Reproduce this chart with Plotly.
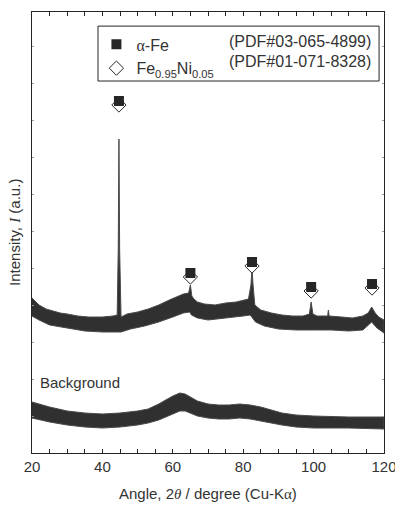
import plotly.graph_objects as go

# ---------------- data ----------------
# Sample pattern: upper and lower edge of the noisy trace (a.u.)
sample_top_angle = [20, 21, 22, 24, 26, 28, 30, 33, 36, 40, 43, 44.2, 44.5, 44.7, 44.9, 45.3,
                    47, 50, 53, 56, 59, 61, 63, 64.5, 65.0, 65.4, 66, 67, 69, 72, 75, 78, 80,
                    81.5, 82.2, 82.5, 82.8, 83.3, 85, 88, 91, 94, 97, 98.8, 99.3, 99.8, 101,
                    104, 104.2, 104.4, 108, 111, 114, 115.5, 116.5, 117.5, 118.5, 120]
sample_top = [155, 151, 148, 144, 142, 140, 139, 137, 136, 136, 137, 138, 203, 314, 203, 136,
              139, 141, 144, 148, 153, 156, 159, 160, 168, 157, 154, 151, 149, 148, 150, 151, 153,
              154, 168, 185, 168, 148, 143, 140, 138, 137, 137, 139, 151, 139, 137,
              137, 143, 137, 136, 135, 137, 140, 146, 140, 136, 133]
sample_bot_angle = [20, 22, 25, 30, 35, 40, 44.3, 45.3, 48, 52, 56, 60, 63, 64.8, 65.3, 67, 70,
                    75, 80, 82, 83.5, 86, 90, 95, 100, 105, 110, 114, 116.5, 118, 120]
sample_bot = [137, 133, 128, 125, 122, 121, 121, 121, 124, 127, 131, 136, 140, 141, 138, 135, 133,
              135, 137, 138, 131, 127, 124, 123, 123, 123, 122, 123, 131, 125, 120]

# Background pattern
bg_angle = [20, 22, 25, 30, 35, 40, 45, 50, 53, 56, 58, 60, 62, 63.5, 65, 67, 70, 73, 76, 79,
            82, 85, 88, 91, 95, 100, 110, 120]
bg_top = [51, 49, 46, 42, 40, 39, 40, 42, 44, 49, 53, 57, 60, 59, 56, 52, 49, 48, 48, 49,
          48, 46, 43, 40, 38, 37, 36, 36]
bg_bot = [35, 33, 31, 28, 26, 25, 26, 28, 30, 33, 36, 39, 42, 42, 40, 37, 35, 34, 34, 35,
          34, 32, 30, 28, 26, 25, 25, 24]

# Peak assignments
peak_angle = [44.7, 65.0, 82.5, 99.3, 116.6]
fe_marker_level = [352, 180, 191, 166, 169]
feni_marker_level = [348, 176, 187, 162, 165]

x_ticks = [20, 40, 60, 80, 100, 120]

INK = "#262626"
FONT = "Liberation Sans, Arial, sans-serif"
SERIF = "Liberation Serif, Times New Roman, serif"


def band_polygon(top_x, top_y, bot_x, bot_y):
    return list(top_x) + list(bot_x)[::-1], list(top_y) + list(bot_y)[::-1]


fig = go.Figure()

# sample trace as a filled noise band
sx, sy = band_polygon(sample_top_angle, sample_top, sample_bot_angle, sample_bot)
fig.add_trace(go.Scatter(x=sx, y=sy, fill="toself", fillcolor="#303030", mode="lines",
                         line=dict(color="#4a4a4a", width=1), showlegend=False,
                         hoverinfo="skip"))

# background trace as a filled noise band
bx, by = band_polygon(bg_angle, bg_top, bg_angle, bg_bot)
fig.add_trace(go.Scatter(x=bx, y=by, fill="toself", fillcolor="#303030", mode="lines",
                         line=dict(color="#4a4a4a", width=1), showlegend=False,
                         hoverinfo="skip"))

# Fe0.95Ni0.05 markers (open diamonds) drawn first
fig.add_trace(go.Scatter(
    x=peak_angle, y=feni_marker_level, mode="markers",
    marker=dict(symbol="diamond", size=11, color="white", line=dict(color=INK, width=1)),
    name="Fe<sub>0.95</sub>Ni<sub>0.05</sub>", legendrank=2))

# alpha-Fe markers (filled squares)
fig.add_trace(go.Scatter(
    x=peak_angle, y=fe_marker_level, mode="markers",
    marker=dict(symbol="square", size=10, color=INK, line=dict(color=INK, width=0)),
    name=f"<span style=\"font-family:{SERIF}\">α</span>-Fe", legendrank=1))

fig.update_layout(
    width=395, height=507,
    margin=dict(l=32, r=11, t=12, b=54),
    plot_bgcolor="white", paper_bgcolor="white",
    font=dict(family=FONT, size=15, color="#333"),
    showlegend=True,
    legend=dict(x=0.183, xanchor="left", y=0.965, yanchor="top",
                bgcolor="rgba(0,0,0,0)", borderwidth=0,
                font=dict(size=16, color="#333"), tracegroupgap=0,
                itemclick=False),
    xaxis=dict(range=[20, 120], tickvals=x_ticks, ticks="inside", ticklen=4,
               tickcolor=INK, linecolor=INK, linewidth=1, mirror="ticks",
               showgrid=False, zeroline=False, automargin=False,
               ticklabeloverflow="allow",
               tickfont=dict(size=15, color="#333"),
               minor=dict(dtick=5, ticks="inside", ticklen=4, tickcolor=INK)),
    yaxis=dict(range=[0, 441], dtick=37, tick0=0, ticks="inside", ticklen=2,
               tickcolor="#999", linecolor=INK, linewidth=1, mirror="ticks",
               showticklabels=False, showgrid=False, zeroline=False, automargin=False),
    shapes=[dict(type="rect", xref="paper", yref="paper",
                 x0=0.1875, x1=0.986, y0=0.8435, y1=0.968,
                 line=dict(color=INK, width=1), fillcolor="rgba(0,0,0,0)")],
    annotations=[
        dict(text="(PDF#03-065-4899)", xref="paper", yref="paper", x=0.969, y=0.932,
             xanchor="right", yanchor="middle", showarrow=False,
             font=dict(size=16, color="#333")),
        dict(text="(PDF#01-071-8328)", xref="paper", yref="paper", x=0.969, y=0.887,
             xanchor="right", yanchor="middle", showarrow=False,
             font=dict(size=16, color="#333")),
        dict(text="Background", x=21.7, y=71, xanchor="left", yanchor="middle",
             showarrow=False, font=dict(size=15, color="#333")),
        dict(text=f"Angle, 2<span style=\"font-family:{SERIF}\"><i>θ</i></span> / degree (Cu-K<span style=\"font-family:{SERIF}\">α</span>)",
             xref="paper", yref="paper", x=0.5, y=-0.091, xanchor="center",
             yanchor="middle", showarrow=False, font=dict(size=15, color="#333")),
        dict(text=f"Intensity, <span style=\"font-family:{SERIF}\"><i>I</i></span> (a.u.)",
             xref="paper", yref="paper", x=-0.05, y=0.5, xanchor="center",
             yanchor="middle", textangle=-90, showarrow=False,
             font=dict(size=15, color="#333")),
    ],
)

fig.write_html("out.html")
